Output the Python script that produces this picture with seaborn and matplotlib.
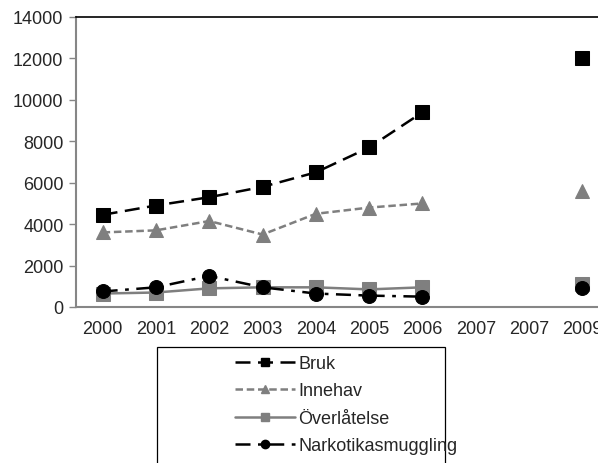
import numpy as np
import pandas as pd
import matplotlib
matplotlib.use("Agg")
import matplotlib.pyplot as plt
from matplotlib.lines import Line2D
from matplotlib.patches import Rectangle
import seaborn as sns

# Data (2007 appears twice on the category axis)
years = ["2000", "2001", "2002", "2003", "2004", "2005", "2006", "2007", "2007", "2009"]
bruk = [4450, 4900, 5300, 5800, 6500, 7700, 9400, np.nan, np.nan, 12000]
innehav = [3600, 3700, 4150, 3500, 4500, 4800, 5000, np.nan, np.nan, 5600]
overlatelse = [650, 700, 900, 950, 950, 850, 950, np.nan, np.nan, 1100]
narkotika = [750, 950, 1500, 950, 650, 550, 500, np.nan, np.nan, 900]

series = {
    "Bruk": bruk,
    "Innehav": innehav,
    "Överlåtelse": overlatelse,
    "Narkotikasmuggling": narkotika,
}
styles = {
    "Bruk": dict(color="black", linestyle=(0, (6, 3)), marker="s", ms=10, mfc="black"),
    "Innehav": dict(color="#7f7f7f", linestyle=(0, (3, 1.5)), marker="^", ms=10, mfc="#7f7f7f"),
    "Överlåtelse": dict(color="#7f7f7f", linestyle="-", marker="s", ms=10, mfc="#7f7f7f"),
    "Narkotikasmuggling": dict(color="black", linestyle=(0, (6, 3, 1.5, 3)), marker="o", ms=10, mfc="black"),
}

sns.set_style("white")
plt.rcParams["font.family"] = ["Liberation Sans", "DejaVu Sans"]
plt.rcParams["font.size"] = 13

fig = plt.figure(figsize=(5.98, 4.64), dpi=100)
ax = fig.add_axes([76 / 598, 1 - 308 / 464, 533 / 598, 290 / 464])

pos = np.arange(len(years))
# break each line where data is missing: segment id changes after a gap
for name, vals in series.items():
    v = np.array(vals, dtype=float)
    seg = np.cumsum(np.isnan(v))
    df = pd.DataFrame({"x": pos, "y": v, "seg": seg}).dropna()
    st = styles[name]
    sns.lineplot(data=df, x="x", y="y", units="seg", estimator=None, ax=ax,
                 color=st["color"], linestyle=st["linestyle"], marker=st["marker"],
                 markersize=st["ms"], markerfacecolor=st["mfc"],
                 markeredgecolor=st["color"], linewidth=1.8, legend=False)

ax.set_xlim(-0.5, len(years) - 0.5)
ax.set_ylim(0, 14000)
ax.set_yticks(range(0, 14001, 2000))
ax.set_xticks(pos)
ax.set_xticklabels(years)
ax.set_xticks(np.arange(-0.5, len(years), 1), minor=True)
ax.tick_params(axis="x", which="major", length=0, pad=9)
ax.tick_params(axis="x", which="minor", length=5, width=1, color="#868686", direction="out")
ax.tick_params(axis="y", length=5, width=1, color="#868686", direction="out", pad=4, left=True)
ax.set_xlabel("")
ax.set_ylabel("")

for s in ["left", "bottom"]:
    ax.spines[s].set_color("#868686")
    ax.spines[s].set_linewidth(1.5)
ax.spines["top"].set_color("black")
ax.spines["top"].set_linewidth(1.2)
ax.spines["right"].set_visible(False)

# legend box below the plot
fig.patches.append(Rectangle((157 / 598, -0.05), (445 - 157) / 598, 0.05 + 1 - 348 / 464,
                             transform=fig.transFigure, fill=False, edgecolor="black",
                             linewidth=0.9))
handles = []
for name in series:
    st = styles[name]
    handles.append(Line2D([], [], color=st["color"], linestyle=st["linestyle"],
                          marker=st["marker"], markersize=6, markerfacecolor=st["mfc"],
                          markeredgecolor=st["color"], linewidth=1.8))
fig.legend(handles, list(series.keys()), loc="upper left",
           bbox_to_anchor=(226 / 598, 1 - 347 / 464), frameon=False,
           handlelength=3.3, handletextpad=0.2, labelspacing=0.58, borderpad=0,
           fontsize=13)

fig.savefig("out.png", dpi=100)
